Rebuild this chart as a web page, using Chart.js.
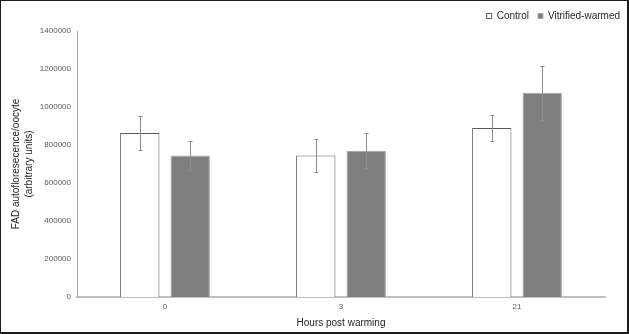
<!DOCTYPE html>
<html>
<head>
<meta charset="utf-8">
<script src="https://cdn.jsdelivr.net/npm/chart.js@4/dist/chart.umd.min.js"></script>
<style>
  html, body { margin: 0; padding: 0; background: #fff; }
  #wrap { position: relative; width: 629px; height: 334px; }
  #c { position: absolute; left: 0; top: 0; }
  #frame { position: absolute; left: 0; top: 0; width: 629px; height: 334px; box-sizing: border-box;
           border-style: solid; border-color: #1a1a1a; border-width: 1px 2px 2px 1px; pointer-events: none; }
</style>
</head>
<body>
<div id="wrap">
  <canvas id="c" width="629" height="334"></canvas>
  <div id="frame"></div>
</div>
<script>
const categories = ['0', '3', '21'];
const seriesNames = ['Control', 'Vitrified-warmed'];
const controlValues = [863000, 745000, 890000];
const vitrifiedValues = [745000, 770000, 1075000];
const controlErrors = [89000, 85000, 70000];
const vitrifiedErrors = [78000, 93000, 143000];
const yTicks = [0, 200000, 400000, 600000, 800000, 1000000, 1200000, 1400000];

const FONT = 'Liberation Sans, Arial, sans-serif';

const errorBarPlugin = {
  id: 'errorBars',
  afterDatasetsDraw(chart) {
    const ctx = chart.ctx;
    const yScale = chart.scales.y;
    const errs = [controlErrors, vitrifiedErrors];
    ctx.save();
    ctx.strokeStyle = '#8c8c8c';
    ctx.lineWidth = 1;
    chart.data.datasets.forEach((ds, di) => {
      const meta = chart.getDatasetMeta(di);
      meta.data.forEach((bar, i) => {
        const v = ds.data[i];
        const e = errs[di][i];
        const x = Math.round(bar.x) + 0.5;
        const yTop = Math.round(yScale.getPixelForValue(v + e)) + 0.5;
        const yBot = Math.round(yScale.getPixelForValue(v - e)) + 0.5;
        ctx.beginPath();
        ctx.moveTo(x, yTop); ctx.lineTo(x, yBot);
        ctx.moveTo(x - 2, yTop); ctx.lineTo(x + 2, yTop);
        ctx.moveTo(x - 2, yBot); ctx.lineTo(x + 2, yBot);
        ctx.stroke();
      });
    });
    ctx.restore();
  }
};

new Chart(document.getElementById('c'), {
  type: 'bar',
  data: {
    labels: categories,
    datasets: [
      { label: seriesNames[0], data: controlValues, backgroundColor: '#ffffff', borderColor: '#595959', borderWidth: 1,
        categoryPercentage: 0.573, barPercentage: 0.78 },
      { label: seriesNames[1], data: vitrifiedValues, backgroundColor: '#7f7f7f', borderColor: '#a3a3a3', borderWidth: 1,
        categoryPercentage: 0.573, barPercentage: 0.78 }
    ]
  },
  options: {
    responsive: false,
    animation: false,
    devicePixelRatio: 1,
    layout: { padding: { left: 0, right: 0, top: 2, bottom: 0 } },
    plugins: {
      legend: {
        display: true, position: 'top', align: 'end',
        labels: { boxWidth: 5, boxHeight: 5, padding: 9, color: '#262626', font: { size: 10, family: FONT } }
      },
      tooltip: { enabled: false }
    },
    scales: {
      x: {
        grid: { display: false, drawTicks: false },
        border: { display: true, color: '#c0c0c0', width: 2 },
        ticks: { color: '#595959', font: { size: 8, family: FONT }, padding: 5 },
        title: { display: true, text: 'Hours post warming', color: '#262626', font: { size: 10, family: FONT }, padding: { top: 4, bottom: 5 } },
        afterFit(scale) { scale.height = 37; }
      },
      y: {
        min: 0, max: 1400000,
        afterBuildTicks(scale) { scale.ticks = yTicks.map(v => ({ value: v })); },
        grid: { display: false, drawTicks: false },
        border: { display: true, color: '#a6a6a6', width: 1 },
        ticks: { color: '#595959', font: { size: 8, family: FONT }, padding: 6, callback: v => String(v) },
        title: { display: true, text: ['FAD autofloresecence/oocyte', '(arbitrary units)'], color: '#262626',
                 font: { size: 10, family: FONT, lineHeight: 1.35 }, padding: { top: 9, bottom: 0 } },
        afterFit(scale) { scale.width = 77; }
      },
      rightSpace: {
        type: 'linear', position: 'right', display: true,
        grid: { display: false, drawTicks: false },
        border: { display: false },
        ticks: { display: false },
        afterFit(scale) { scale.width = 24; }
      }
    }
  },
  plugins: [errorBarPlugin]
});
</script>
</body>
</html>
